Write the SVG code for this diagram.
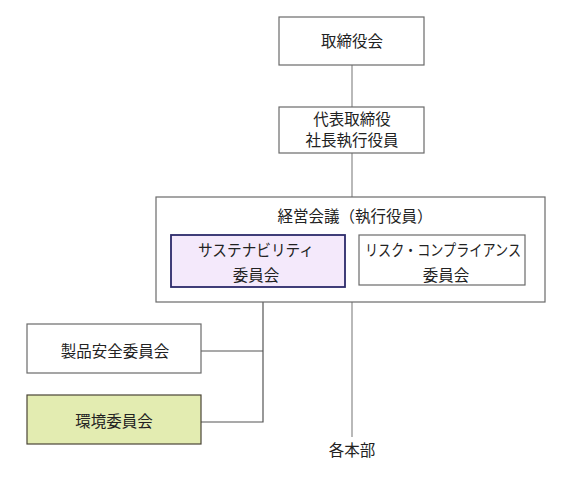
<svg xmlns="http://www.w3.org/2000/svg" width="577" height="491" viewBox="0 0 577 491">
<style>
text{font-family:"Noto Sans CJK JP","Noto Sans CJK SC",sans-serif;font-size:15.5px;fill:#222;text-anchor:middle}
.box{fill:#fff;stroke:#6a6a6a;stroke-width:1.2}
.ln{stroke:#8a8a8a;stroke-width:1.2;fill:none}
.ln2{stroke:#555;stroke-width:1.2;fill:none}
</style>
<rect width="577" height="491" fill="#fff"/>
<g id="connectors">
<line class="ln" x1="352" y1="65" x2="352" y2="107"/>
<line class="ln" x1="352" y1="153" x2="352" y2="197"/>
<line class="ln" x1="352" y1="302" x2="352" y2="437"/>
<polyline class="ln2" points="263,287 263,422 201,422"/>
<line class="ln2" x1="201" y1="351" x2="263" y2="351"/>
</g>
<g id="board">
<rect class="box" x="279" y="17" width="145" height="48"/>
<text x="352" y="47">取締役会</text>
</g>
<g id="president">
<rect class="box" x="279" y="107" width="145" height="46"/>
<text x="352" y="125">代表取締役</text>
<text x="352" y="146">社長執行役員</text>
</g>
<g id="management">
<rect class="box" x="156" y="197" width="389" height="105"/>
<text x="355" y="222">経営会議（執行役員）</text>
</g>
<g id="sustainability">
<rect x="171" y="235" width="174" height="52" fill="#f4e9fb" stroke="#2c2a6a" stroke-width="1.8"/>
<text x="256" y="256" textLength="116" lengthAdjust="spacingAndGlyphs">サステナビリティ</text>
<text x="256" y="281">委員会</text>
</g>
<g id="risk">
<rect class="box" x="359" y="235" width="166" height="50"/>
<text x="443" y="256" textLength="156" lengthAdjust="spacingAndGlyphs">リスク・コンプライアンス</text>
<text x="446" y="281">委員会</text>
</g>
<g id="product">
<rect class="box" x="27" y="324" width="174" height="49" stroke="#555"/>
<text x="115" y="357">製品安全委員会</text>
</g>
<g id="environment">
<rect x="27" y="395" width="174" height="49" fill="#e3ecb1" stroke="#4a4536" stroke-width="1.2"/>
<text x="114" y="427">環境委員会</text>
</g>
<g id="divisions">
<text x="352" y="456">各本部</text>
</g>
</svg>
